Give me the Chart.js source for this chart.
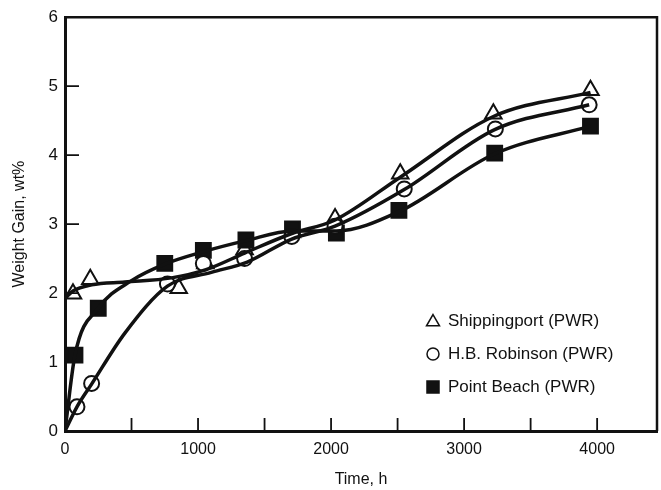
<!DOCTYPE html>
<html>
<head>
<meta charset="utf-8">
<script src="https://cdn.jsdelivr.net/npm/chart.js@4"></script>
<style>
  html, body { margin: 0; padding: 0; background: #fff; }
  #wrap { width: 661px; height: 490px; }
</style>
</head>
<body>
<div id="wrap"><canvas id="chart" width="661" height="490"></canvas></div>
<script>
// --- markers (hours, wt%) ---
const shipHours = [60, 190, 855, 1055, 1350, 1705, 2030, 2520, 3220, 3950];
const shipGain  = [1.99, 2.2, 2.07, 2.43, 2.63, 2.88, 3.08, 3.73, 4.6, 4.94];

const robHours = [90, 200, 770, 1040, 1350, 1705, 2030, 2550, 3235, 3940];
const robGain  = [0.35, 0.69, 2.13, 2.43, 2.5, 2.82, 2.97, 3.51, 4.38, 4.73];

const pbHours = [75, 250, 750, 1040, 1360, 1710, 2040, 2510, 3230, 3950];
const pbGain  = [1.1, 1.78, 2.43, 2.62, 2.77, 2.93, 2.87, 3.2, 4.03, 4.42];

// --- smoothed curves as drawn in the figure ---
const shipCurveHours = [0, 60, 200, 450, 800, 1060, 1350, 1700, 2030, 2520, 3220, 3950];
const shipCurveGain  = [1.92, 2.03, 2.12, 2.16, 2.22, 2.34, 2.58, 2.86, 3.06, 3.68, 4.56, 4.91];

const robCurveHours = [0, 90, 200, 450, 770, 1100, 1370, 1700, 2030, 2550, 3230, 3940];
const robCurveGain  = [0, 0.35, 0.68, 1.42, 2.1, 2.3, 2.45, 2.78, 2.97, 3.5, 4.37, 4.73];

const pbCurveHours = [0, 75, 250, 500, 750, 1040, 1360, 1710, 2040, 2510, 3230, 3950];
const pbCurveGain  = [0, 1.1, 1.78, 2.18, 2.42, 2.6, 2.76, 2.9, 2.9, 3.18, 4.02, 4.42];

const seriesNames = ["Shippingport (PWR)", "H.B. Robinson (PWR)", "Point Beach (PWR)"];
const xTickLabels = [0, 1000, 2000, 3000, 4000];
const yTickLabels = [0, 1, 2, 3, 4, 5, 6];

const INK = "#111";
const FONT = "'Liberation Sans', Arial, sans-serif";

function pts(xs, ys) { return xs.map((x, i) => ({ x: x, y: ys[i] })); }

function curve(xs, ys) {
  return {
    type: "line",
    data: pts(xs, ys),
    borderColor: INK,
    borderWidth: 3.5,
    pointRadius: 0,
    fill: false,
    cubicInterpolationMode: "monotone"
  };
}

function markers(label, xs, ys, style, radius, fill) {
  return {
    type: "scatter",
    label: label,
    data: pts(xs, ys),
    pointStyle: style,
    pointRadius: radius,
    pointBackgroundColor: fill,
    pointBorderColor: INK,
    pointBorderWidth: 2,
    showLine: false
  };
}

// inward tick marks + top/right frame
const frame = {
  id: "frame",
  afterDatasetsDraw(chart) {
    const { ctx, chartArea: a, scales } = chart;
    ctx.save();
    ctx.strokeStyle = INK;
    ctx.lineWidth = 1.8;
    ctx.beginPath();
    for (let v = 500; v <= 4000; v += 500) {
      const px = scales.x.getPixelForValue(v);
      ctx.moveTo(px, a.bottom);
      ctx.lineTo(px, a.bottom - 13);
    }
    for (let v = 1; v <= 5; v++) {
      const py = scales.y.getPixelForValue(v);
      ctx.moveTo(a.left, py);
      ctx.lineTo(a.left + 14, py);
    }
    ctx.stroke();
    ctx.lineWidth = 2.5;
    ctx.beginPath();
    ctx.moveTo(a.left, a.top);
    ctx.lineTo(a.right, a.top);
    ctx.lineTo(a.right, a.bottom);
    ctx.stroke();
    ctx.restore();
  }
};

// legend inside the plot, lower right
const insideLegend = {
  id: "insideLegend",
  afterDraw(chart) {
    const { ctx, chartArea: a } = chart;
    const rows = [
      { style: "triangle", r: 7.5, fill: "#fff" },
      { style: "circle", r: 6, fill: "#fff" },
      { style: "rect", r: 8.5, fill: INK }
    ];
    ctx.save();
    ctx.font = "17px " + FONT;
    ctx.textBaseline = "middle";
    rows.forEach((row, i) => {
      const cx = a.right - 224;
      const cy = a.bottom - 110 + i * 33;
      ctx.fillStyle = row.fill;
      ctx.strokeStyle = INK;
      ctx.lineWidth = 1.5;
      Chart.helpers.drawPoint(ctx, { pointStyle: row.style, radius: row.r, borderWidth: 1.5 }, cx, cy + (row.style === "triangle" ? 1 : 0));
      ctx.fillStyle = INK;
      ctx.fillText(seriesNames[i], cx + 15, cy);
    });
    ctx.restore();
  }
};

new Chart(document.getElementById("chart"), {
  data: {
    datasets: [
      curve(shipCurveHours, shipCurveGain),
      curve(robCurveHours, robCurveGain),
      curve(pbCurveHours, pbCurveGain),
      markers(seriesNames[1], robHours, robGain, "circle", 7.5, "#fff"),
      markers(seriesNames[2], pbHours, pbGain, "rect", 10.5, INK),
      markers(seriesNames[0], shipHours, shipGain, "triangle", 9.5, "#fff")
    ]
  },
  options: {
    responsive: false,
    animation: false,
    layout: { autoPadding: false, padding: { left: 0, top: 16, right: 4, bottom: 0 } },
    plugins: { legend: { display: false }, tooltip: { enabled: false } },
    scales: {
      x: {
        type: "linear",
        min: 0,
        max: 4450,
        afterFit(s) { s.height = 59; },
        afterBuildTicks(s) { s.ticks = xTickLabels.map(v => ({ value: v })); },
        grid: { display: false, drawTicks: false },
        border: { color: INK, width: 3 },
        ticks: { color: INK, font: { family: FONT, size: 16 }, padding: 9, maxRotation: 0, callback: v => String(v) },
        title: { display: true, text: "Time, h", color: INK, font: { family: FONT, size: 16 }, padding: { top: 0, bottom: 1 } }
      },
      y: {
        min: 0,
        max: 6,
        afterFit(s) { s.width = 65; },
        afterBuildTicks(s) { s.ticks = yTickLabels.map(v => ({ value: v })); },
        grid: { display: false, drawTicks: false },
        border: { color: INK, width: 3 },
        ticks: { color: INK, font: { family: FONT, size: 17 }, padding: 7, callback: v => String(v) },
        title: { display: true, text: "Weight Gain, wt%", color: INK, font: { family: FONT, size: 16 }, padding: { top: 10, bottom: 0 } }
      }
    }
  },
  plugins: [frame, insideLegend]
});
</script>
</body>
</html>
